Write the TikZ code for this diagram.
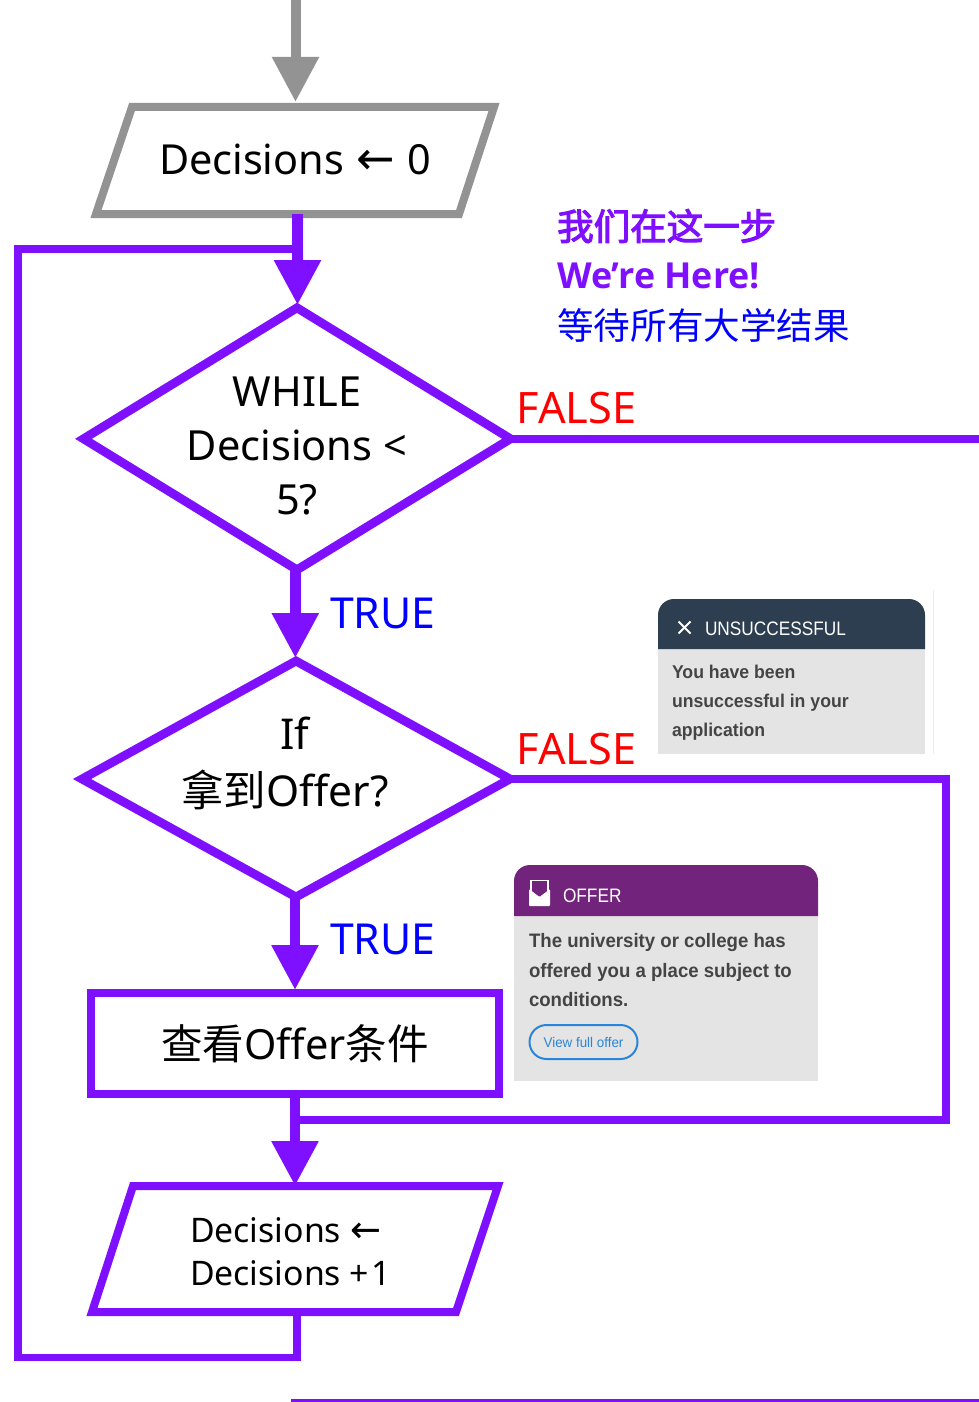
\documentclass[tikz,border=0pt]{standalone}
\usepackage{fontspec}
\setmainfont{Noto Sans}
\newfontfamily\cjk{Noto Sans CJK SC}
\newfontfamily\cjkb[FakeBold=3]{Noto Sans CJK SC}
\newfontfamily\arr{DejaVu Sans}
\newfontfamily\opn{Open Sans}
\newfontfamily\card[FakeStretch=0.955]{Liberation Sans}
\newfontfamily\cardh[FakeStretch=0.885]{Liberation Sans}
\usetikzlibrary{arrows.meta,shapes.geometric}
\definecolor{pur}{HTML}{7F0FFF}
\definecolor{gry}{HTML}{939393}
\definecolor{cardbody}{HTML}{E4E4E4}
\definecolor{navy}{HTML}{2C3E50}
\definecolor{plum}{HTML}{72247C}
\definecolor{btn}{HTML}{2A85D8}
\definecolor{ink}{HTML}{444444}
\tikzset{
  conn/.style={draw=pur,line width=7.5pt},
  flow/.style={draw=pur,line width=10.5pt,-{Triangle[width=44.5pt,length=45pt]}},
  dia/.style={shape=diamond,draw=pur,line width=8.8pt,inner sep=0pt,outer sep=0pt},
  txt/.style={inner sep=0pt,outer sep=0pt,text=black,font=\fontsize{42.5}{57}\selectfont},
  lab/.style={inner sep=0pt,outer sep=0pt,anchor=base west,font=\fontsize{42.7}{54}\selectfont},
  cardtxt/.style={inner sep=0pt,outer sep=0pt,anchor=base west,text=ink,font=\card\bfseries\fontsize{18.5}{18.5}\selectfont},
  cardhead/.style={inner sep=0pt,outer sep=0pt,anchor=base west,text=white,font=\cardh\fontsize{19.5}{19.5}\selectfont},
}
\begin{document}
\begin{tikzpicture}[x=1pt,y=-1pt]
\useasboundingbox (0,0) rectangle (979,1402);
% anchors for free ends
\coordinate (start) at (295.5,0);
\coordinate (initTop) at (295.5,102);
\coordinate (initOut) at (297.5,214);
\coordinate (loopTip) at (297.5,305);
\coordinate (exitA) at (979,438.8);
\coordinate (loopTL) at (18,249);
\coordinate (loopTR) at (297.5,249);
\coordinate (loopBL) at (18,1357.5);
\coordinate (loopBR) at (297,1357.5);
\coordinate (incOut) at (297,1312);
\coordinate (incIn) at (295,1186);
\coordinate (mergeL) at (295,1120);
\coordinate (mergeR) at (946,1120);
\coordinate (topR) at (946,779);
\coordinate (endL) at (291,1400.5);
\coordinate (endR) at (979,1400.5);
% shapes
\draw[draw=gry,line width=8pt,fill=white] (132,107) coordinate (i1) -- (494,107) -- (459,214) -- (96,214) -- cycle;
\node[dia,minimum width=427pt,minimum height=262pt] (loopd) at (297,438.8) {};
\node[dia,minimum width=428pt,minimum height=236pt] (offd) at (296,779) {};
\node[draw=pur,line width=8pt,inner sep=0pt,outer sep=0pt,minimum width=408pt,minimum height=101pt] (view) at (295,1043.5) {};
\draw[draw=pur,line width=8pt,fill=white] (133,1186) -- (498,1186) -- (456,1312) -- (92,1312) -- cycle;
% connectors
\draw[draw=gry,line width=10pt,-{Triangle[width=44.5pt,length=45pt]}] (start) -- (initTop);
\draw[draw=pur,line width=7.5pt] (incOut) -- (loopBR) -- (loopBL) -- (loopTL) -- (loopTR);
\draw[flow] (initOut) -- (loopTip);
\draw[conn] (loopd.east) -- (exitA);
\draw[flow] (295.3,569) -- (295.3,658);
\draw[conn,line join=miter] (offd.east) -- (topR) -- (mergeR) -- (mergeL);
\draw[flow] (295,896) -- (295,990);
\draw[flow] (295,1094) -- (incIn);
\draw[draw=pur,line width=3pt] (endL) -- (endR);
% shape labels
\node[txt,anchor=base west,font=\fontsize{41.4}{50}\selectfont] (t1) at (159,174.5) {Decisions\hspace{12pt}{\arr\fontsize{46}{46}\selectfont ←}\hspace{13pt}0};
\node[txt,align=center,font=\fontsize{41.5}{54}\selectfont] (t2) at (297,446) {WHILE\\Decisions <\\5?};
\node[txt,align=center] (t3) at (285,763) {\hspace*{20pt}If\\{\cjk 拿到}Offer?};
\node[txt,anchor=base,font=\fontsize{41.5}{50}\selectfont] (t4) at (295,1059.5) {{\cjk 查看}Offer{\cjk 条件}};
\node[txt,align=left,anchor=west,font=\fontsize{33.8}{43}\selectfont] (t5) at (190,1252) {Decisions\hspace{9pt}{\arr\fontsize{37}{37}\selectfont ←}\\Decisions +\hspace{2pt}1};
% branch labels
\node[lab,text=red,font=\fontsize{43.3}{54}\selectfont] (f1) at (516.5,423) {FALSE};
\node[lab,text=red,font=\fontsize{43.3}{54}\selectfont] (f2) at (516.5,764) {FALSE};
\node[lab,text=blue] (b1) at (330,628.5) {TRUE};
\node[lab,text=blue] (b2) at (330,954.5) {TRUE};
% annotation
\node[inner sep=0pt,anchor=base west,text=pur,font=\cjkb\fontsize{36.5}{36.5}\selectfont] (n1) at (557,240) {我们在这一步};
\node[inner sep=0pt,anchor=base west,text=pur,font=\opn\bfseries\fontsize{35.8}{35.8}\selectfont] (n2) at (557,288) {We’re Here!};
\node[inner sep=0pt,anchor=base west,text=blue,font=\cjk\fontsize{36.6}{36.6}\selectfont] (n3) at (557,339) {等待所有大学结果};
% unsuccessful card
\fill[cardbody] (658,640) rectangle (925,754);
\fill[navy] (658,649) [rounded corners=16pt] -- (658,599) -- (925,599) [sharp corners] -- (925,649) -- cycle;
\draw[draw=black!7,line width=1pt] (933.5,590) -- (933.5,754);
\draw[white,line width=1.8pt] (678.5,621.5) -- (690.5,633.5) (690.5,621.5) -- (678.5,633.5);
\node[cardhead] (uh) at (705,635) {UNSUCCESSFUL};
\node[cardtxt] (u1) at (672,678) {You have been};
\node[cardtxt] (u2) at (672,707) {unsuccessful in your};
\node[cardtxt] (u3) at (672,736) {application};
% offer card
\fill[cardbody] (514,905) rectangle (818,1081);
\fill[plum] (514,916) [rounded corners=16pt] -- (514,865) -- (818,865) [sharp corners] -- (818,916) -- cycle;
\draw[white,line width=1.3pt] (531,892) -- (531,880.5) -- (548,880.5) -- (548,892);
\fill[white,rounded corners=1pt] (529,889) -- (539.5,897) -- (550,889) -- (550,906) -- (529,906) -- cycle;
\node[cardhead] (oh) at (563,902) {OFFER};
\node[cardtxt,font=\card\bfseries\fontsize{19.5}{19.5}\selectfont] (o1) at (529,947) {The university or college has};
\node[cardtxt,font=\card\bfseries\fontsize{19.5}{19.5}\selectfont] (o2) at (529,977) {offered you a place subject to};
\node[cardtxt,font=\card\bfseries\fontsize{19.5}{19.5}\selectfont] (o3) at (529,1006) {conditions.};
\node[draw=btn,line width=2pt,rounded corners=17pt,minimum width=108pt,minimum height=34pt,inner sep=0pt,text=btn,font=\card\fontsize{14}{14}\selectfont] (btn) at (583.5,1042) {View full offer};
\end{tikzpicture}
\end{document}
